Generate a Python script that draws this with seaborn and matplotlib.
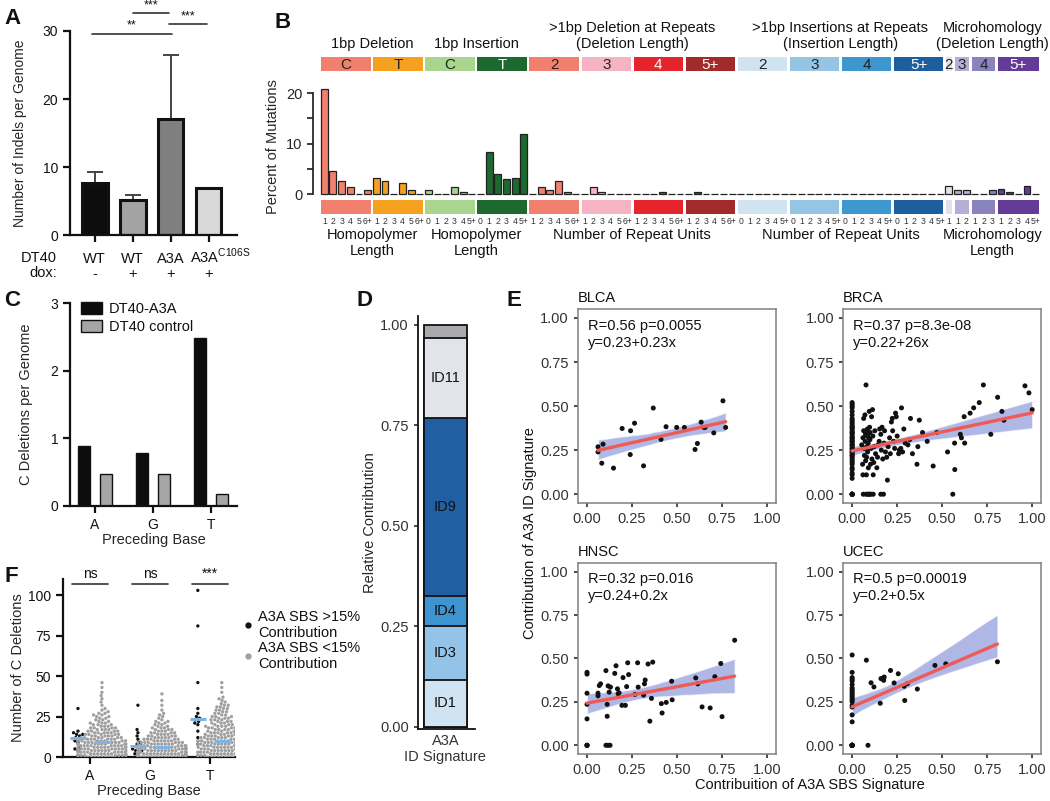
import numpy as np
import pandas as pd
import seaborn as sns
import matplotlib.pyplot as plt
from matplotlib.lines import Line2D
from matplotlib.ticker import FormatStrFormatter
import matplotlib.transforms as mtrans

# ---------------- data ----------------
# A: indels per genome
a_names = ['WT -', 'WT +', 'A3A +', 'A3A C106S +']
a_row1 = ['WT', 'WT', 'A3A', 'A3A$^{\\mathregular{C106S}}$']
a_row2 = ['-', '+', '+', '+']
a_means = [7.6, 5.2, 17.1, 6.9]
a_err = [1.6, 0.7, 9.4, 0.0]
a_colors = ['#0d0d0d', '#a3a3a3', '#7f7f7f', '#d9d9d9']

# B: ID83 profile
id_strip_labels = ['C', 'T', 'C', 'T', '2', '3', '4', '5+', '2', '3', '4', '5+', '2', '3', '4', '5+']
id_colors = ['#f2806f', '#f5a11f', '#a9d58f', '#1d6a30', '#f2806f', '#f6b4c2', '#e5242b', '#a32a2a',
             '#cfe3f1', '#95c4e4', '#3f97cf', '#1f5e9e', '#e1e1ec', '#b4afd6', '#8983be', '#643c97']
id_sizes = [6, 6, 6, 6, 6, 6, 6, 6, 6, 6, 6, 6, 1, 2, 3, 5]
id_ticks = (['1', '2', '3', '4', '5', '6+'] * 2 + ['0', '1', '2', '3', '4', '5+'] * 2
            + ['1', '2', '3', '4', '5', '6+'] * 4 + ['0', '1', '2', '3', '4', '5+'] * 4
            + ['1'] + ['1', '2'] + ['1', '2', '3'] + ['1', '2', '3', '4', '5+'])
id_values = [20.8, 4.6, 2.6, 1.3, 0, 0.7,
             3.2, 2.6, 0, 2.1, 0.7, 0,
             0.8, 0, 0, 1.3, 0.3, 0.05,
             0.1, 8.3, 3.9, 3.0, 3.2, 11.9,
             0, 1.3, 0.7, 2.6, 0.3, 0,
             0.1, 1.3, 0.3, 0, 0, 0,
             0, 0, 0, 0.3, 0, 0,
             0, 0.4, 0, 0, 0, 0,
             0, 0, 0, 0, 0, 0,
             0, 0, 0, 0, 0, 0,
             0, 0, 0, 0, 0, 0,
             0, 0, 0, 0, 0, 0,
             1.6,
             0.8, 0.8,
             0, 0, 0.8,
             0.9, 0.35, 0, 1.5, 0.1]
id_top_headers = ['1bp Deletion', '1bp Insertion', '>1bp Deletion at Repeats\n(Deletion Length)',
                  '>1bp Insertions at Repeats\n(Insertion Length)', 'Microhomology\n(Deletion Length)']
id_bottom_headers = ['Homopolymer\nLength', 'Homopolymer\nLength', 'Number of Repeat Units',
                     'Number of Repeat Units', 'Microhomology\nLength']
id_header_groups = [(0, 2), (2, 4), (4, 8), (8, 12), (12, 16)]

# C: C deletions by preceding base
c_bases = ['A', 'G', 'T']
c_a3a = [0.88, 0.78, 2.48]
c_ctrl = [0.48, 0.48, 0.18]

# D: signature contributions
d_sigs = ['ID1', 'ID3', 'ID4', 'ID9', 'ID11', '']
d_vals = [0.118, 0.134, 0.074, 0.442, 0.200, 0.032]
d_colors = ['#cfe3f2', '#93c3e6', '#3d94d0', '#2060a2', '#e3e4ea', '#a9aaad']

# E: correlations
blca_x = [0.061, 0.061, 0.089, 0.082, 0.147, 0.195, 0.242, 0.264, 0.24, 0.314, 0.368, 0.411,
          0.439, 0.498, 0.541, 0.600, 0.613, 0.634, 0.649, 0.656, 0.704, 0.755, 0.77]
blca_y = [0.269, 0.24, 0.284, 0.176, 0.148, 0.373, 0.36, 0.403, 0.225, 0.161, 0.489, 0.311,
          0.383, 0.379, 0.379, 0.254, 0.288, 0.409, 0.379, 0.379, 0.348, 0.53, 0.379]

# samples with no SBS contribution (x = 0); several sit on top of each other at 0
brca_zero_y = [0.0, 0.0, 0.0, 0.0, 0.0, 0.0, 0.09, 0.11, 0.12, 0.14, 0.15, 0.17, 0.18, 0.19, 0.2,
               0.21, 0.22, 0.22, 0.23, 0.24, 0.24, 0.25, 0.26, 0.26, 0.27, 0.28, 0.28, 0.29, 0.3,
               0.3, 0.31, 0.32, 0.32, 0.33, 0.34, 0.35, 0.35, 0.36, 0.37, 0.38, 0.38, 0.39, 0.4,
               0.41, 0.42, 0.43, 0.45, 0.47, 0.49, 0.5, 0.51, 0.52]
brca_x = [0.062, 0.077, 0.085, 0.091, 0.098, 0.104, 0.117, 0.159, 0.174, 0.559,
          0.053, 0.058, 0.06, 0.06, 0.064, 0.064, 0.066, 0.068, 0.071, 0.072, 0.074, 0.075, 0.077,
          0.078, 0.079, 0.08, 0.081, 0.082, 0.083, 0.085, 0.086, 0.088, 0.089, 0.09, 0.092, 0.095,
          0.097, 0.099, 0.1, 0.102, 0.105, 0.108, 0.11, 0.113, 0.115, 0.117, 0.12, 0.122, 0.126,
          0.13, 0.137, 0.141, 0.145, 0.15, 0.153, 0.159, 0.162, 0.166, 0.17, 0.177, 0.18, 0.185,
          0.192, 0.196, 0.2, 0.208, 0.212, 0.218, 0.223, 0.225, 0.23, 0.236, 0.241, 0.245, 0.25,
          0.258, 0.262, 0.27, 0.274, 0.28, 0.287, 0.295, 0.31, 0.32, 0.324, 0.335, 0.36, 0.365,
          0.373, 0.391, 0.417, 0.45, 0.47, 0.53, 0.569, 0.57, 0.601, 0.607, 0.622, 0.625, 0.655,
          0.675, 0.706, 0.729, 0.77, 0.808, 0.832, 0.843, 0.96, 0.982, 1.0]
brca_y = [0, 0, 0, 0, 0, 0, 0, 0, 0, 0,
          0.28, 0.17, 0.11, 0.32, 0.36, 0.43, 0.26, 0.22, 0.45, 0.3, 0.34, 0.19, 0.62,
          0.36, 0.11, 0.21, 0.27, 0.26, 0.33, 0.37, 0.24, 0.34, 0.29, 0.15, 0.32, 0.47,
          0.38, 0.31, 0.35, 0.17, 0.26, 0.44, 0.2, 0.48, 0.33, 0.11, 0.18, 0.27, 0.36,
          0.23, 0.15, 0.21, 0.28, 0.3, 0.37, 0.34, 0.25, 0.38, 0.2, 0.29, 0.36, 0.24,
          0.21, 0.08, 0.27, 0.32, 0.23, 0.41, 0.43, 0.36, 0.3, 0.26, 0.46, 0.44, 0.33,
          0.23, 0.25, 0.26, 0.49, 0.24, 0.37, 0.29, 0.28, 0.31, 0.43, 0.23, 0.17, 0.27,
          0.42, 0.35, 0.3, 0.16, 0.35, 0.24, 0.29, 0.14, 0.34, 0.32, 0.44, 0.29, 0.46,
          0.49, 0.52, 0.62, 0.34, 0.55, 0.47, 0.42, 0.615, 0.575, 0.48]

hnsc_x = [0, 0, 0, 0, 0, 0, 0, 0, 0.061, 0.061, 0.068, 0.075, 0.105, 0.112, 0.112, 0.105, 0.116,
          0.128, 0.117, 0.123, 0.13, 0.154, 0.161, 0.169, 0.173, 0.178, 0.194, 0.2, 0.213, 0.22,
          0.226, 0.231, 0.266, 0.281, 0.284, 0.314, 0.319, 0.323, 0.339, 0.349, 0.358, 0.365,
          0.413, 0.417, 0.44, 0.47, 0.473, 0.604, 0.615, 0.639, 0.684, 0.71, 0.743, 0.75, 0.82]
hnsc_y = [0, 0, 0, 0.152, 0.236, 0.30, 0.41, 0.42, 0.30, 0.285, 0.344, 0.354, 0.43, 0.236, 0.167,
          0, 0, 0, 0.342, 0.306, 0.335, 0.414, 0.458, 0.325, 0.297, 0.302, 0.23, 0.39, 0.23,
          0.338, 0.475, 0.407, 0.293, 0.475, 0.335, 0.289, 0.354, 0.376, 0.468, 0.139, 0.27,
          0.479, 0.24, 0.186, 0.247, 0.369, 0.262, 0.388, 0.354, 0.221, 0.215, 0.395, 0.471,
          0.165, 0.605]

ucec_x = [0, 0, 0, 0, 0, 0, 0, 0, 0, 0, 0, 0, 0, 0, 0, 0, 0, 0, 0, 0, 0, 0, 0, 0, 0, 0, 0, 0,
          0.079, 0.088, 0.105, 0.121, 0.156, 0.16, 0.171, 0.175, 0.178, 0.213, 0.233, 0.256,
          0.289, 0.292, 0.307, 0.362, 0.46, 0.52, 0.807]
ucec_y = [0, 0, 0, 0, 0, 0, 0, 0, 0, 0.135, 0.175, 0.22, 0.23, 0.25, 0.26, 0.27, 0.28, 0.29, 0.3,
          0.31, 0.32, 0.33, 0.35, 0.37, 0.38, 0.39, 0.42, 0.52,
          0.49, 0, 0.36, 0.336, 0.242, 0.384, 0.387, 0.374, 0.393, 0.431, 0.359, 0.412,
          0.34, 0.258, 0.355, 0.324, 0.46, 0.469, 0.481]

e_names = ['BLCA', 'BRCA', 'HNSC', 'UCEC']
e_stats = ['R=0.56 p=0.0055\ny=0.23+0.23x', 'R=0.37 p=8.3e-08\ny=0.22+26x',
           'R=0.32 p=0.016\ny=0.24+0.2x', 'R=0.5 p=0.00019\ny=0.2+0.5x']

# F: C deletions per tumour
f_bases = ['A', 'G', 'T']
f_hi = {'A': [30, 16, 15, 14, 14, 13, 12, 11, 10, 9, 6, 5, 4, 1],
        'G': [32, 17, 15, 13, 11, 9, 8, 7, 6, 5, 4, 4, 3, 2, 1],
        'T': [103, 81, 46, 30, 27, 25, 24, 23, 22, 21, 20, 16, 12, 8]}
f_lo_vals = {'A': [0, 1, 2, 3, 4, 5, 6, 7, 8, 9, 10, 11, 12, 13, 14, 15, 16, 17, 18, 19, 20, 21, 22,
                   23, 24, 25, 26, 27, 28, 29, 30, 32, 34, 36, 38, 40, 43, 46],
             'G': [0, 1, 2, 3, 4, 5, 6, 7, 8, 9, 10, 11, 12, 13, 14, 15, 16, 17, 18, 19, 20, 21, 22,
                   23, 24, 25, 26, 27, 29, 32, 35, 39],
             'T': [0, 1, 2, 3, 4, 5, 6, 7, 8, 9, 10, 11, 12, 13, 14, 15, 16, 17, 18, 19, 20, 21, 22,
                   23, 24, 25, 26, 27, 28, 29, 30, 31, 32, 33, 34, 35, 36, 37, 40, 43, 46]}
f_lo_cnts = {'A': [8, 8, 8, 8, 8, 8, 8, 8, 8, 7, 7, 6, 6, 5, 5, 5, 4, 4, 4, 3, 3, 3, 2,
                   2, 2, 2, 2, 2, 1, 1, 1, 1, 1, 1, 1, 1, 1, 1],
             'G': [12, 12, 12, 12, 9, 9, 10, 8, 7, 7, 6, 5, 5, 4, 4, 4, 3, 3, 3, 2, 2, 2, 2,
                   1, 1, 1, 1, 1, 1, 1, 1, 1],
             'T': [9, 9, 9, 7, 7, 7, 7, 7, 7, 7, 8, 6, 6, 5, 5, 5, 4, 4, 4, 4, 3, 3, 3,
                   3, 3, 3, 2, 2, 2, 2, 2, 2, 2, 1, 1, 1, 1, 1, 1, 1, 1]}
f_sig = ['ns', 'ns', '***']

# ---------------- style ----------------
sns.set_theme(style='ticks')
plt.rcParams['font.family'] = ['Liberation Sans', 'DejaVu Sans']
plt.rcParams['font.size'] = 10
plt.rcParams['xtick.labelsize'] = 10
plt.rcParams['ytick.labelsize'] = 10
plt.rcParams['axes.labelsize'] = 10
plt.rcParams['text.color'] = '#111111'

fig = plt.figure(figsize=(10.5, 8.01), dpi=100)


def prism(ax):
    sns.despine(ax=ax)
    for s in ('left', 'bottom'):
        ax.spines[s].set_linewidth(1.6)
        ax.spines[s].set_color('#111111')
    ax.tick_params(width=1.6, length=5, color='#111111', labelcolor='#111111')


# ---------------- A ----------------
axA = fig.add_axes([0.0667, 0.7066, 0.159, 0.2547])
dfA = pd.DataFrame({'grp': a_names, 'val': a_means})
sns.barplot(data=dfA, x='grp', y='val', hue='grp', palette=a_colors, legend=False, width=0.68,
            saturation=1, edgecolor='#111111', linewidth=2.2, ax=axA)
has_err = [i for i, e in enumerate(a_err) if e > 0]
axA.errorbar(has_err, [a_means[i] for i in has_err], yerr=[[0] * len(has_err), [a_err[i] for i in has_err]],
             fmt='none', ecolor='#444444', elinewidth=1.4, capsize=6, capthick=1.4, zorder=0)
axA.set_xlim(-0.65, 3.75)
axA.set_ylim(0, 30)
axA.set_yticks([0, 10, 20, 30])
axA.set_xticks(range(4))
axA.set_xticklabels([])
axA.set_xlabel('')
axA.set_ylabel('Number of Indels per Genome')
axA.yaxis.set_label_coords(-0.26, 0.5)
prism(axA)
tA = mtrans.blended_transform_factory(axA.transData, axA.transAxes)
for i in range(4):
    dx = 0.32 if i == 3 else 0
    axA.text(i + dx, -0.135, a_row1[i], transform=tA, ha='center', va='baseline', fontsize=10.5)
    axA.text(i, -0.21, a_row2[i], transform=tA, ha='center', va='baseline', fontsize=10.5)
fig.text(57 / 1050, 1 - 262 / 801, 'DT40', ha='right', va='baseline', fontsize=10.5)
fig.text(57 / 1050, 1 - 277 / 801, 'dox:', ha='right', va='baseline', fontsize=10.5)
for x0, x1, yy, lab in [(-0.08, 2.05, 29.6, '**'), (1.0, 1.97, 32.6, '***'), (1.97, 2.95, 31.0, '***')]:
    axA.plot([x0, x1], [yy, yy], color='#333333', lw=1.2, clip_on=False)
    axA.text((x0 + x1) / 2, yy + 0.3, lab, ha='center', va='bottom', fontsize=9, clip_on=False)

# ---------------- B ----------------
cats, bar_cols = [], []
for g, n in enumerate(id_sizes):
    for k in range(n):
        cats.append(f'{g}_{k}')
        bar_cols.append(id_colors[g])
dfB = pd.DataFrame({'cat': cats, 'pct': id_values})
xl = (-1.3, 82.5)
axB = fig.add_axes([0.2981, 0.7559, 0.6924, 0.1372])
sns.barplot(data=dfB, x='cat', y='pct', hue='cat', palette=bar_cols, legend=False, order=cats,
            width=0.8, saturation=1, edgecolor='#222222', linewidth=0.9, ax=axB)
axB.set_xlim(*xl)
axB.set_ylim(-0.3, 21.5)
for s in ('top', 'right', 'bottom'):
    axB.spines[s].set_visible(False)
axB.spines['left'].set_bounds(0, 20)
axB.spines['left'].set_color('#222222')
axB.set_yticks([0, 5, 10, 15, 20])
axB.set_yticklabels(['0', '', '10', '', '20'])
axB.tick_params(axis='y', length=4, color='#222222', labelsize=10.5)
axB.set_xticks([])
axB.set_xlabel('')
axB.set_ylabel('Percent of Mutations', fontsize=10.5)
axB.yaxis.set_label_coords(-0.046, 0.45)

axBt = fig.add_axes([0.2981, 0.9114, 0.6924, 0.01748])
axBb = fig.add_axes([0.2981, 0.7328, 0.6924, 0.01748])
dark = {3, 6, 7, 11, 15}
start = 0
starts = []
for g, n in enumerate(id_sizes):
    starts.append(start)
    for sax in (axBt, axBb):
        sax.axvspan(start - 0.5 + 0.15, start + n - 0.5 - 0.15, color=id_colors[g], lw=0)
    axBt.text(start + (n - 1) / 2, 0.45, id_strip_labels[g], ha='center', va='center', fontsize=11,
              color='white' if g in dark else '#222222')
    start += n
starts.append(start)
for sax in (axBt, axBb):
    sax.set_xlim(*xl)
    sax.set_ylim(0, 1)
    sax.set_yticks([])
    for s in sax.spines.values():
        s.set_visible(False)
axBt.set_xticks([])
axBb.set_xticks(range(len(cats)))
axBb.set_xticklabels(id_ticks, fontsize=6.2, color='#333333')
axBb.tick_params(axis='x', length=0, pad=2)
tBt = mtrans.blended_transform_factory(axBt.transData, axBt.transAxes)
tBb = mtrans.blended_transform_factory(axBb.transData, axBb.transAxes)
for (g0, g1), top, bot in zip(id_header_groups, id_top_headers, id_bottom_headers):
    cx = (starts[g0] + starts[g1] - 1) / 2
    axBt.text(cx, 1.45, top, transform=tBt, ha='center', va='bottom', fontsize=10.5, linespacing=1.15)
    axBb.text(cx, -1.0, bot, transform=tBb, ha='center', va='top', fontsize=10.5, linespacing=1.15)

# ---------------- C ----------------
axC = fig.add_axes([0.0667, 0.3683, 0.159, 0.2534])
dfC = pd.DataFrame({'base': c_bases * 2, 'val': c_a3a + c_ctrl,
                    'line': ['DT40-A3A'] * 3 + ['DT40 control'] * 3})
sns.barplot(data=dfC, x='base', y='val', hue='line', palette=['#0d0d0d', '#a6a6a6'], width=0.76,
            gap=0.45, saturation=1, edgecolor='#111111', linewidth=1, ax=axC)
axC.set_xlim(-0.43, 2.45)
axC.set_ylim(0, 3)
axC.set_yticks([0, 1, 2, 3])
axC.set_xlabel('Preceding Base', labelpad=1, fontsize=10.5)
axC.set_ylabel('C Deletions per Genome', fontsize=10.5)
axC.yaxis.set_label_coords(-0.22, 0.5)
prism(axC)
axC.legend(loc='upper left', bbox_to_anchor=(-0.01, 1.07), frameon=False, fontsize=10.5,
           handlelength=1.4, handleheight=0.9, handletextpad=0.5, labelspacing=0.3)

# ---------------- F ----------------
rows = []
for b in f_bases:
    for v in f_hi[b]:
        rows.append((b, 'hi', v))
    for v in np.repeat(f_lo_vals[b], f_lo_cnts[b]):
        rows.append((b, 'lo', v))
dfF = pd.DataFrame(rows, columns=['base', 'grp', 'n'])
axF = fig.add_axes([0.06, 0.0549, 0.1638, 0.2222])
sns.swarmplot(data=dfF, x='base', y='n', hue='grp', hue_order=['hi', 'lo'], dodge=True,
              palette={'hi': '#111111', 'lo': '#a0a0a0'}, size=2.4, legend=False, ax=axF,
              warn_thresh=1)
for bi, b in enumerate(f_bases):
    for off, gname in [(-0.2, 'hi'), (0.2, 'lo')]:
        med = np.median(dfF[(dfF.base == b) & (dfF.grp == gname)]['n'])
        axF.hlines(med, bi + off - 0.13, bi + off + 0.13, color='#7fb2e5', lw=2.2, zorder=6)
    axF.plot([bi - 0.3, bi + 0.3], [107, 107], color='#333333', lw=1.2, clip_on=False)
    axF.text(bi, 109, f_sig[bi], ha='center', va='bottom', fontsize=10, clip_on=False)
axF.set_xlim(-0.45, 2.42)
axF.set_ylim(0, 110)
axF.set_yticks([0, 25, 50, 75, 100])
axF.set_xlabel('Preceding Base', labelpad=1, fontsize=10.5)
axF.set_ylabel('Number of C Deletions', fontsize=10.5)
axF.yaxis.set_label_coords(-0.22, 0.5)
prism(axF)
hF = [Line2D([], [], marker='o', ls='', color='#111111', markersize=3.5),
      Line2D([], [], marker='o', ls='', color='#a0a0a0', markersize=3.5)]
axF.legend(hF, ['A3A SBS >15%\nContribution', 'A3A SBS <15%\nContribution'], loc='upper left',
           bbox_to_anchor=(1.0, 0.86), frameon=False, fontsize=10.5, handletextpad=0.2,
           labelspacing=0.05, handlelength=1.0, borderaxespad=0)

# ---------------- D ----------------
axD = fig.add_axes([0.3981, 0.0904, 0.0543, 0.5151])
cum = np.cumsum(d_vals)
for i in range(len(d_vals) - 1, -1, -1):
    sns.barplot(x=['A3A\nID Signature'], y=[cum[i]], color=d_colors[i], saturation=1, width=0.8,
                edgecolor='#111111', linewidth=1.3, ax=axD)
for i, lab in enumerate(d_sigs):
    if lab:
        axD.text(0, cum[i] - d_vals[i] / 2, lab, ha='center', va='center', fontsize=10.5,
                 color='#111111')
axD.set_xlim(-0.51, 0.55)
axD.set_ylim(-0.004, 1.022)
axD.set_yticks([0, 0.25, 0.5, 0.75, 1.0])
axD.yaxis.set_major_formatter(FormatStrFormatter('%.2f'))
axD.set_ylabel('Relative Contribtution', fontsize=10.5)
axD.yaxis.set_label_coords(-0.72, 0.5)
sns.despine(ax=axD)
for s in ('left', 'bottom'):
    axD.spines[s].set_linewidth(1.3)
    axD.spines[s].set_color('#111111')
axD.tick_params(axis='y', length=3, color='#333333', labelcolor='#333333', labelsize=10.5)
axD.tick_params(axis='x', length=0, pad=4, labelcolor='#333333', labelsize=10.5)

# ---------------- E ----------------
e_data = [(blca_x, blca_y), ([0.0] * len(brca_zero_y) + brca_x, brca_zero_y + brca_y),
          (hnsc_x, hnsc_y), (ucec_x, ucec_y)]
e_pos = [[0.5505, 0.372, 0.1886, 0.242], [0.803, 0.372, 0.1886, 0.242],
         [0.5505, 0.0587, 0.1886, 0.2385], [0.803, 0.0587, 0.1886, 0.2385]]
for (ex, ey), pos, name, st in zip(e_data, e_pos, e_names, e_stats):
    ax = fig.add_axes(pos)
    sns.regplot(x=np.array(ex), y=np.array(ey), ax=ax, scatter=False, ci=95, seed=0,
                color='#ee5a55', line_kws=dict(lw=2.4, zorder=4))
    band = ax.collections[-1]
    band.set_facecolor('#7b88d4')
    band.set_alpha(0.6)
    sns.scatterplot(x=ex, y=ey, ax=ax, color='#111111', s=13, edgecolor='none', zorder=3)
    ax.set_xlim(-0.05, 1.05)
    ax.set_ylim(-0.05, 1.05)
    ax.set_xticks([0, 0.25, 0.5, 0.75, 1.0])
    ax.set_yticks([0, 0.25, 0.5, 0.75, 1.0])
    ax.xaxis.set_major_formatter(FormatStrFormatter('%.2f'))
    ax.yaxis.set_major_formatter(FormatStrFormatter('%.2f'))
    for s in ax.spines.values():
        s.set_color('#808080')
        s.set_linewidth(1.1)
    ax.tick_params(length=3, color='#333333', labelcolor='#333333', labelsize=10.5)
    ax.set_title(name, loc='left', fontsize=10.5, pad=5)
    ax.text(0.05, 0.95, st, transform=ax.transAxes, ha='left', va='top', fontsize=10.5,
            linespacing=1.25)
fig.text(530 / 1050, 1 - 533 / 801, 'Contribution of A3A ID Signature', rotation=90,
         ha='center', va='center', fontsize=10.5)
fig.text(810 / 1050, 1 - 785 / 801, 'Contribuition of A3A SBS Signature', ha='center',
         va='center', fontsize=10.5)

# ---------------- panel letters ----------------
for lab, x, y in [('A', 4, 18), ('B', 275, 22), ('C', 4, 300), ('D', 357, 300), ('E', 507, 300),
                  ('F', 4, 577)]:
    fig.text(x / 1050, 1 - y / 801, lab, fontsize=16, fontweight='bold', ha='left', va='center')

fig.savefig('out.png', dpi=100)
